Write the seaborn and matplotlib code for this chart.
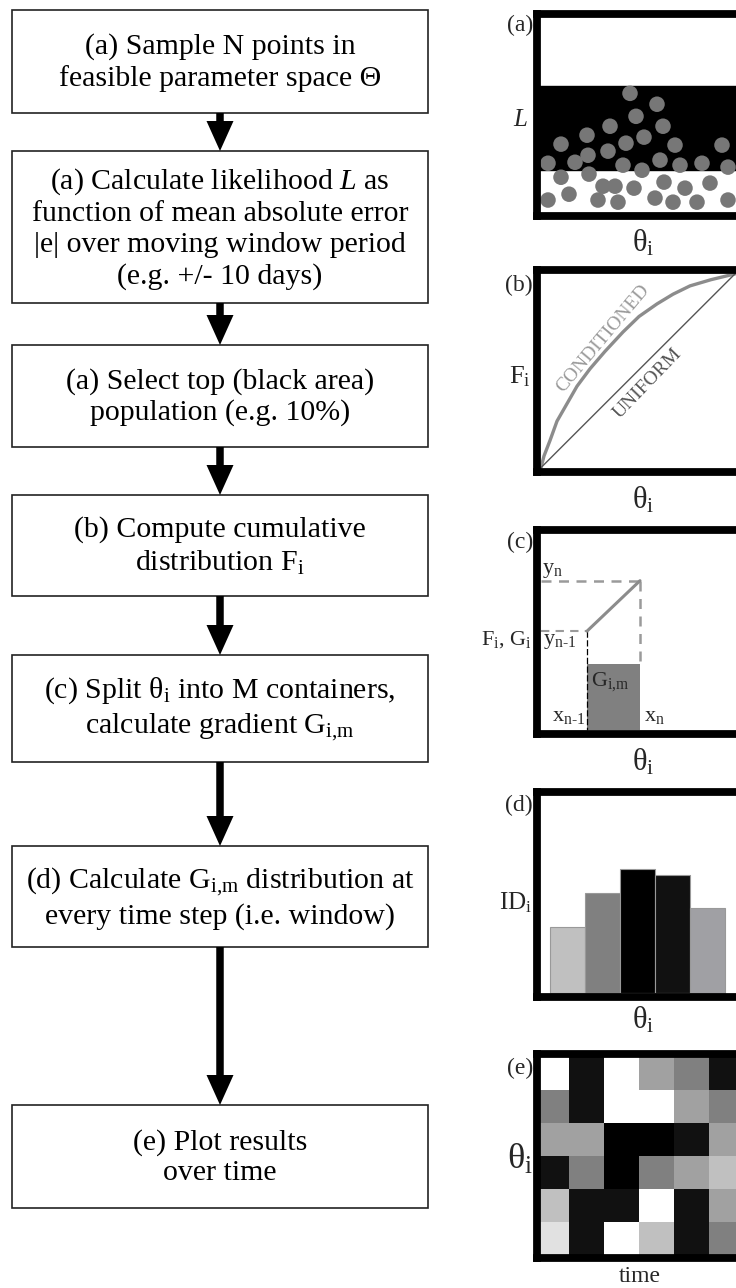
import matplotlib
matplotlib.use("Agg")
import matplotlib.pyplot as plt
from matplotlib.patches import Rectangle, Polygon
import seaborn as sns
import pandas as pd

# -----------------------------
# Data
# -----------------------------
steps = [
    "(a) Sample N points in\nfeasible parameter space Θ",
    "(a) Calculate likelihood $L$ as\nfunction of mean absolute error\n|e| over moving window period\n(e.g. +/- 10 days)",
    "(a) Select top (black area)\npopulation (e.g. 10%)",
    "(b) Compute cumulative\ndistribution F$_\\mathrm{i}$",
    "(c) Split θ$_\\mathrm{i}$ into M containers,\ncalculate gradient G$_\\mathrm{i{,}m}$",
    "(d) Calculate G$_\\mathrm{i{,}m}$ distribution at\nevery time step (i.e. window)",
    "(e) Plot results\nover time",
]
box_top = [10, 151, 345, 495, 655, 846, 1105]
box_bottom = [113, 303, 447, 596, 762, 947, 1208]

# (a) sampled points: theta vs likelihood
dot_theta = [0.445, 0.58, 0.475, 0.345, 0.61, 0.23, 0.10, 0.425, 0.515, 0.335,
             0.67, 0.905, 0.035, 0.17, 0.235, 0.41, 0.505, 0.595, 0.695, 0.805,
             0.935, 0.10, 0.24, 0.31, 0.37, 0.465, 0.615, 0.72, 0.845, 0.14,
             0.035, 0.285, 0.385, 0.57, 0.66, 0.78, 0.935]
dot_L = [0.610, 0.554, 0.492, 0.441, 0.441, 0.395, 0.349, 0.354, 0.385, 0.313,
         0.344, 0.344, 0.251, 0.256, 0.292, 0.241, 0.215, 0.267, 0.241, 0.251,
         0.231, 0.179, 0.195, 0.133, 0.133, 0.123, 0.154, 0.123, 0.149, 0.092,
         0.062, 0.062, 0.051, 0.072, 0.051, 0.051, 0.062]
top_band = [0.215, 0.646]

# (b) cumulative distributions
cond_theta = [0.0, 0.015, 0.045, 0.08, 0.13, 0.18, 0.245, 0.32, 0.41, 0.49, 0.58, 0.66, 0.745, 0.85, 0.97]
cond_F = [0.0, 0.06, 0.14, 0.24, 0.33, 0.42, 0.51, 0.60, 0.70, 0.78, 0.845, 0.895, 0.938, 0.97, 1.0]
unif_theta = [0.0, 0.97]
unif_F = [0.0, 1.0]

# (c) gradient within one container
x_prev, x_next = 0.23, 0.495
y_prev, y_next = 0.503, 0.761
grad = 0.335

# (d) gradient distribution
bins = ["m1", "m2", "m3", "m4", "m5"]
id_vals = [0.333, 0.505, 0.626, 0.596, 0.429]
id_grey = ["#c0c0c0", "#808080", "#000000", "#111111", "#a0a0a4"]

# (e) distribution through time (grey level, 0 black -> 1 white)
grid = [
    [1.00, 0.07, 1.00, 0.63, 0.50, 0.07],
    [0.50, 0.07, 1.00, 1.00, 0.63, 0.50],
    [0.63, 0.63, 0.00, 0.00, 0.07, 0.63],
    [0.07, 0.50, 0.00, 0.50, 0.63, 0.75],
    [0.75, 0.07, 0.07, 1.00, 0.07, 0.63],
    [0.88, 0.07, 1.00, 0.75, 0.07, 0.50],
]

# -----------------------------
# Style
# -----------------------------
sns.set_theme(style="white")
plt.rcParams["font.family"] = ["Liberation Serif", "DejaVu Serif"]
plt.rcParams["mathtext.fontset"] = "custom"
plt.rcParams["mathtext.rm"] = "Liberation Serif"
plt.rcParams["mathtext.it"] = "Liberation Serif:italic"
plt.rcParams["mathtext.bf"] = "Liberation Serif:bold"

W, H = 736, 1288
fig = plt.figure(figsize=(W / 100, H / 100), dpi=100)
fig.patch.set_facecolor("white")

# canvas in pixel units for the flowchart
ax0 = fig.add_axes([0, 0, 1, 1])
ax0.set_xlim(0, W)
ax0.set_ylim(H, 0)
ax0.axis("off")

bx0, bx1 = 12, 428
cx = (bx0 + bx1) / 2
for txt, t, b in zip(steps, box_top, box_bottom):
    ax0.add_patch(Rectangle((bx0, t), bx1 - bx0, b - t, fill=False, ec="#222222", lw=1.2))
    ax0.text(cx, (t + b) / 2 + 1, txt, ha="center", va="center", fontsize=21.5,
             linespacing=1.24, color="black")

head_h, head_w = 30, 27
for b, t in zip(box_bottom[:-1], box_top[1:]):
    ax0.plot([cx, cx], [b, t - head_h + 2], color="black", lw=5.4, solid_capstyle="butt")
    ax0.add_patch(Polygon([[cx - head_w / 2, t - head_h], [cx + head_w / 2, t - head_h], [cx, t]],
                          closed=True, color="black", lw=0))


def panel(top, bottom, left=537, right=745):
    ax = fig.add_axes([left / W, 1 - bottom / H, (right - left) / W, (bottom - top) / H])
    return ax


def frame(ax):
    for sp in ax.spines.values():
        sp.set_visible(True)
        sp.set_color("black")
        sp.set_linewidth(5.6)
    ax.set_xticks([])
    ax.set_yticks([])
    ax.set_xlabel("")
    ax.set_ylabel("")


# (a)
axa = panel(13.5, 216)
axa.axhspan(top_band[0], top_band[1], color="black", zorder=0)
sns.scatterplot(x=dot_theta, y=dot_L, s=125, color="#777777", edgecolor="none", ax=axa, zorder=2)
axa.set_xlim(-0.02, 1.02)
axa.set_ylim(-0.02, 1.02)
frame(axa)

# (b)
axb = panel(270, 471.5)
sns.lineplot(x=cond_theta, y=cond_F, color="#8c8c8c", lw=2.4, sort=False, ax=axb)
sns.lineplot(x=unif_theta, y=unif_F, color="#555555", lw=1.0, sort=False, ax=axb)
axb.text(0.31, 0.665, "CONDITIONED", rotation=50, ha="center", va="center",
         fontsize=14, color="#9a9a9a", rotation_mode="anchor")
axb.text(0.535, 0.435, "UNIFORM", rotation=46, ha="center", va="center",
         fontsize=14, color="#555555", rotation_mode="anchor")
axb.set_xlim(-0.02, 1.02)
axb.set_ylim(-0.02, 1.02)
frame(axb)

# (c)
axc = panel(530, 733.5)
axc.bar([x_prev], [grad], width=x_next - x_prev, align="edge", color="#808080", lw=0)
axc.plot([0, x_next], [y_next, y_next], color="#9a9a9a", lw=1.8, ls=(0, (4, 3)))
axc.plot([x_next, x_next], [y_next, grad], color="#9a9a9a", lw=1.8, ls=(0, (4, 3)))
axc.plot([0, x_prev], [y_prev, y_prev], color="#9a9a9a", lw=1.5, ls=(0, (4, 3)))
axc.plot([x_prev, x_prev], [y_prev, 0], color="black", lw=0.9, ls=(0, (5, 2)))
sns.lineplot(x=[x_prev, x_next], y=[y_prev, y_next], color="#8c8c8c", lw=2.2, ax=axc)
fs_c = 16
axc.text(0.005, y_next + 0.005, "y$_\\mathrm{n}$", ha="left", va="bottom", fontsize=fs_c)
axc.text(0.01, y_prev - 0.005, "y$_\\mathrm{n\u20101}$", ha="left", va="top", fontsize=fs_c)
axc.text(x_prev + 0.02, grad - 0.03, "G$_\\mathrm{i{,}m}$", ha="left", va="top", fontsize=fs_c)
axc.text(x_prev - 0.01, 0.02, "x$_\\mathrm{n\u20101}$", ha="right", va="bottom", fontsize=fs_c)
axc.text(x_next + 0.02, 0.02, "x$_\\mathrm{n}$", ha="left", va="bottom", fontsize=fs_c)
axc.set_xlim(-0.02, 1.02)
axc.set_ylim(-0.02, 1.02)
frame(axc)

# (d)
axd = panel(791.5, 996.5)
sns.barplot(x=bins, y=id_vals, hue=bins, palette=id_grey, width=1.0, saturation=1,
            legend=False, edgecolor="#999999", linewidth=0.8, ax=axd)
axd.set_xlim(-0.871, 5.07)
axd.set_ylim(-0.018, 1.018)
frame(axd)

# (e)
axe = panel(1054, 1257.5)
sns.heatmap(pd.DataFrame(grid), cmap="gray", vmin=0, vmax=1, cbar=False, ax=axe)
axe.set_xlim(0.086, 6.03)
axe.set_ylim(6.08, -0.09)
frame(axe)

# panel labels
lab_fs = 17
for lab, y in zip(["(a)", "(b)", "(c)", "(d)", "(e)"], [25, 285, 542, 805, 1068]):
    ax0.text(533, y, lab, ha="right", va="center", fontsize=lab_fs)

ax0.text(528, 120, "$L$", ha="right", va="center", fontsize=18)
ax0.text(531, 377, "F$_\\mathrm{i}$", ha="right", va="center", fontsize=19)
ax0.text(532, 640, "F$_\\mathrm{i}$, G$_\\mathrm{i}$", ha="right", va="center", fontsize=16)
ax0.text(532, 903, "ID$_\\mathrm{i}$", ha="right", va="center", fontsize=18)
ax0.text(533, 1160, "θ$_\\mathrm{i}$", ha="right", va="center", fontsize=26)

for y in [243, 500, 762, 1020]:
    ax0.text(643, y, "θ$_\\mathrm{i}$", ha="center", va="center", fontsize=22)
ax0.text(640, 1276, "time", ha="center", va="center", fontsize=17)

fig.savefig("out.png", dpi=100, facecolor="white")
